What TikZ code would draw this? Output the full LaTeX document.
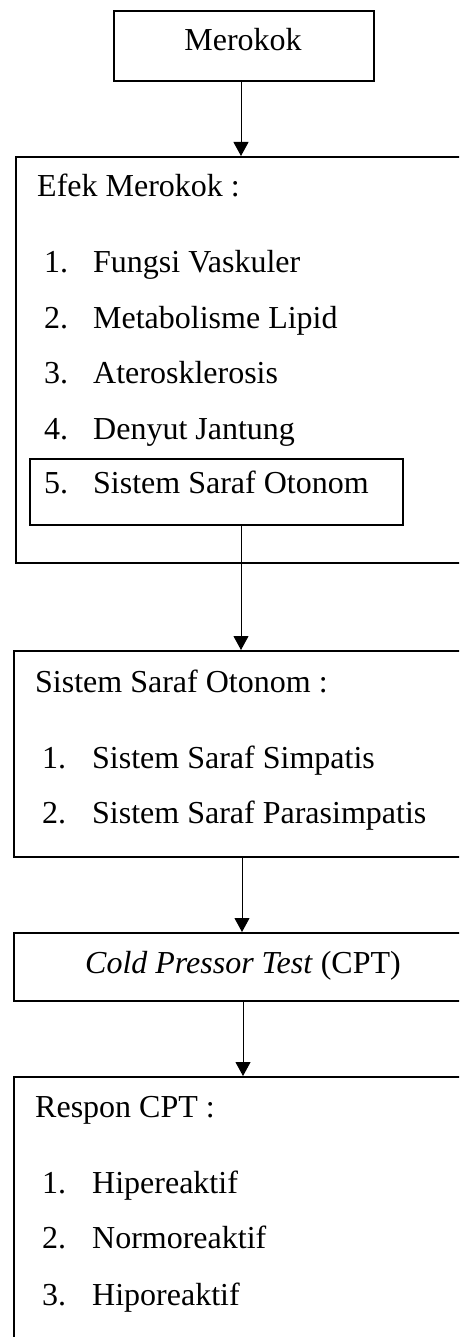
\documentclass[tikz,border=0pt]{standalone}
\usepackage{fontspec}
\setmainfont{Liberation Serif}
\usetikzlibrary{arrows.meta}
\begin{document}
\begin{tikzpicture}[x=1pt,y=-1pt,
  box/.style={draw,line width=2pt,inner sep=0pt,anchor=north west},
  txt/.style={anchor=base west,inner sep=0pt,font=\fontsize{32}{38}\selectfont},
  ctxt/.style={anchor=base,inner sep=0pt,font=\fontsize{32}{38}\selectfont},
  arr/.style={line width=1pt,-{Triangle[width=15pt,length=14pt]}}]
\useasboundingbox (0,0) rectangle (459,1337);
\clip (0,0) rectangle (459,1337);
% boxes
\node[box,minimum width=260pt,minimum height=70pt] (merokok) at (113,10) {};
\node[box,minimum width=455pt,minimum height=406pt] (efek) at (15,156) {};
\node[box,minimum width=373pt,minimum height=66pt] (inner5) at (29,458) {};
\node[box,minimum width=457pt,minimum height=206pt] (sso) at (13,650) {};
\node[box,minimum width=457pt,minimum height=68pt] (cpt) at (13,932) {};
\node[box,minimum width=457pt,minimum height=300pt] (respon) at (13,1076) {};
% texts
\node[ctxt] (tmerokok) at (243,51) {Merokok};
\node[txt] (tefek) at (37,197) {Efek Merokok :};
\node[txt] (e1) at (44,273) {\makebox[49pt][l]{1.}Fungsi Vaskuler};
\node[txt] (e2) at (44,328) {\makebox[49pt][l]{2.}Metabolisme Lipid};
\node[txt] (e3) at (44,383) {\makebox[49pt][l]{3.}Aterosklerosis};
\node[txt] (e4) at (44,439) {\makebox[49pt][l]{4.}Denyut Jantung};
\node[txt] (e5) at (44,493) {\makebox[49pt][l]{5.}Sistem Saraf Otonom};
\node[txt] (tsso) at (35,692) {Sistem Saraf Otonom :};
\node[txt] (s1) at (42,768) {\makebox[50pt][l]{1.}Sistem Saraf Simpatis};
\node[txt] (s2) at (42,823) {\makebox[50pt][l]{2.}Sistem Saraf Parasimpatis};
\node[ctxt] (tcpt) at (243,973) {\textit{Cold Pressor Test} (CPT)};
\node[txt] (tresp) at (35,1117) {Respon CPT :};
\node[txt] (r1) at (42,1193) {\makebox[50pt][l]{1.}Hipereaktif};
\node[txt] (r2) at (42,1248) {\makebox[50pt][l]{2.}Normoreaktif};
\node[txt] (r3) at (42,1305) {\makebox[50pt][l]{3.}Hiporeaktif};
% arrows
\coordinate (xa) at (241,0);
\coordinate (xb) at (242,0);
\coordinate (xc) at (243,0);
\draw[arr] (merokok.south -| xa) -- (efek.north -| xa);
\draw[arr] (inner5.south -| xa) -- (sso.north -| xa);
\draw[arr] (sso.south -| xb) -- (cpt.north -| xb);
\draw[arr] (cpt.south -| xc) -- (respon.north -| xc);
\end{tikzpicture}
\end{document}
